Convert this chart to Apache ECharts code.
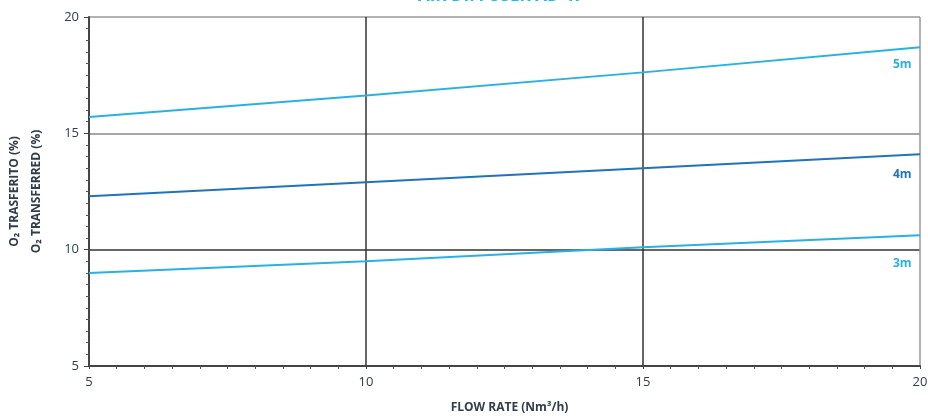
<!DOCTYPE html>
<html>
<head>
<meta charset="utf-8">
<script src="https://cdn.jsdelivr.net/npm/echarts@6/dist/echarts.min.js"></script>
<style>
html,body{margin:0;padding:0;background:#fff;}
#c{width:928px;height:416px;}
</style>
</head>
<body>
<div id="c"></div>
<script>
var flowRates = [5, 10, 15, 20];
var series5m = [15.70, 16.63, 17.62, 18.70];
var series4m = [12.30, 12.90, 13.50, 14.10];
var series3m = [9.00, 9.50, 10.10, 10.62];
var seriesNames = ['5m', '4m', '3m'];
var xTicks = [5, 10, 15, 20];
var yTicks = [5, 10, 15, 20];

var chart = echarts.init(document.getElementById('c'), null, {renderer: 'canvas'});
var light = '#29b1e4';
var dark = '#1f74ba';
var FONT = '"Open Sans", Roboto, sans-serif';

function mk(name, vals, color, labelDy) {
  return {
    name: name, type: 'line',
    data: flowRates.map(function (x, i) { return [x, vals[i]]; }),
    symbol: 'none',
    lineStyle: {color: color, width: 2}, itemStyle: {color: color},
    endLabel: {
      show: true, formatter: name, offset: [-32, labelDy], distance: 5,
      align: 'left', verticalAlign: 'top',
      color: color, fontSize: 12, fontWeight: 'bold', fontFamily: FONT
    },
    silent: true, z: 5
  };
}

chart.setOption({
  animation: false,
  title: {
    text: 'AIR DIFFUSER AD 47', left: 413, top: -17,
    textStyle: {color: '#13c0f0', fontSize: 17, fontWeight: 'bold', fontFamily: FONT}
  },
  grid: {left: 89, right: 8, top: 17, bottom: 50, containLabel: false, outerBoundsMode: 'none'},
  xAxis: {
    type: 'value', min: 5, max: 20, interval: 5,
    name: 'FLOW RATE (Nm³/h)', nameLocation: 'middle', nameGap: 36,
    nameTextStyle: {color: '#2f3d4c', fontSize: 12, fontWeight: 'bold', fontFamily: FONT, padding: [0, 0, 0, 10]},
    axisLine: {show: true, lineStyle: {color: '#444', width: 2}},
    axisTick: {show: true, length: 3, lineStyle: {color: '#444'}},
    minorTick: {show: true, splitNumber: 10, length: 3, lineStyle: {color: '#555'}},
    axisLabel: {color: '#2f3d4c', fontSize: 13, margin: 10, fontFamily: FONT,
      formatter: function (v) { return xTicks.indexOf(v) >= 0 ? String(v) : ''; }},
    splitLine: {show: true, lineStyle: {color: ['#333', '#333', '#333', '#999'], width: 1.5}}
  },
  yAxis: {
    type: 'value', min: 5, max: 20, interval: 5,
    name: 'O₂ TRASFERITO (%)\nO₂ TRANSFERRED (%)', nameLocation: 'middle', nameGap: 41,
    nameRotate: 90,
    nameTextStyle: {color: '#2f3d4c', fontSize: 12, fontWeight: 'bold', fontFamily: FONT, lineHeight: 22},
    axisLine: {show: true, lineStyle: {color: '#444', width: 2}},
    axisTick: {show: true, length: 5, lineStyle: {color: '#444'}},
    minorTick: {show: true, splitNumber: 10, length: 3, lineStyle: {color: '#555'}},
    axisLabel: {color: '#2f3d4c', fontSize: 13, margin: 10, fontFamily: FONT,
      formatter: function (v) { return yTicks.indexOf(v) >= 0 ? String(v) : ''; }},
    splitLine: {show: true, lineStyle: {color: ['#333', '#333', '#888', '#999'], width: 1.5}}
  },
  series: [
    mk(seriesNames[0], series5m, light, 11),
    mk(seriesNames[1], series4m, dark, 14),
    mk(seriesNames[2], series3m, light, 22)
  ]
});
</script>
</body>
</html>
